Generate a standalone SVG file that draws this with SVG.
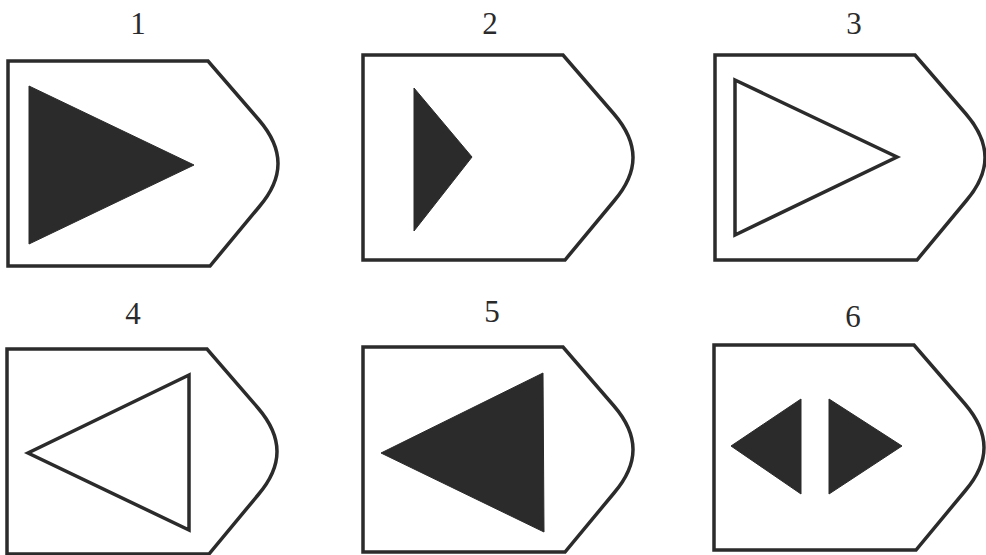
<svg xmlns="http://www.w3.org/2000/svg" xmlns:xlink="http://www.w3.org/1999/xlink" width="986" height="555" viewBox="0 0 986 555">
<style>
.tag{fill:#fff;stroke:#2b2b2b;stroke-width:3.5;stroke-linejoin:miter}
.solid{fill:#2b2b2b;stroke:#2b2b2b;stroke-width:1;stroke-linejoin:round}
.hollow{fill:none;stroke:#2b2b2b;stroke-width:3.5;stroke-linejoin:miter}
.lbl{font-family:"Liberation Serif","Times New Roman",serif;font-size:31px;fill:#2a2a2a;text-anchor:middle}
</style>
<defs>
<path id="tagShape" d="M0,0 H200 L251,59 C263,73 270,87 270,102.5 C270,118 263,132 251,146 L202,205 H0 Z"/>
</defs>
<rect width="986" height="555" fill="#fff"/>
<g id="node1">
<text class="lbl" x="138" y="34">1</text>
<use xlink:href="#tagShape" class="tag" transform="translate(8,61)"/>
<polygon class="solid" points="29,86 194,165 29,244"/>
</g>
<g id="node2">
<text class="lbl" x="490" y="34">2</text>
<use xlink:href="#tagShape" class="tag" transform="translate(363,55)"/>
<polygon class="solid" points="414,88 472,157 414,231"/>
</g>
<g id="node3">
<text class="lbl" x="854" y="34">3</text>
<use xlink:href="#tagShape" class="tag" transform="translate(715,55)"/>
<polygon class="hollow" points="735,80 897,157 735,235"/>
</g>
<g id="node4">
<text class="lbl" x="133" y="324">4</text>
<use xlink:href="#tagShape" class="tag" transform="translate(7,349)"/>
<polygon class="hollow" points="189,375 28,453 189,530"/>
</g>
<g id="node5">
<text class="lbl" x="492" y="322">5</text>
<use xlink:href="#tagShape" class="tag" transform="translate(363,347)"/>
<polygon class="solid" points="543,373 381,453 544,532"/>
</g>
<g id="node6">
<text class="lbl" x="853" y="327">6</text>
<use xlink:href="#tagShape" class="tag" transform="translate(714,345)"/>
<polygon class="solid" points="801,399 731,446 801,494"/>
<polygon class="solid" points="829,399 902,446 829,494"/>
</g>
<g id="connectors"/>
</svg>
